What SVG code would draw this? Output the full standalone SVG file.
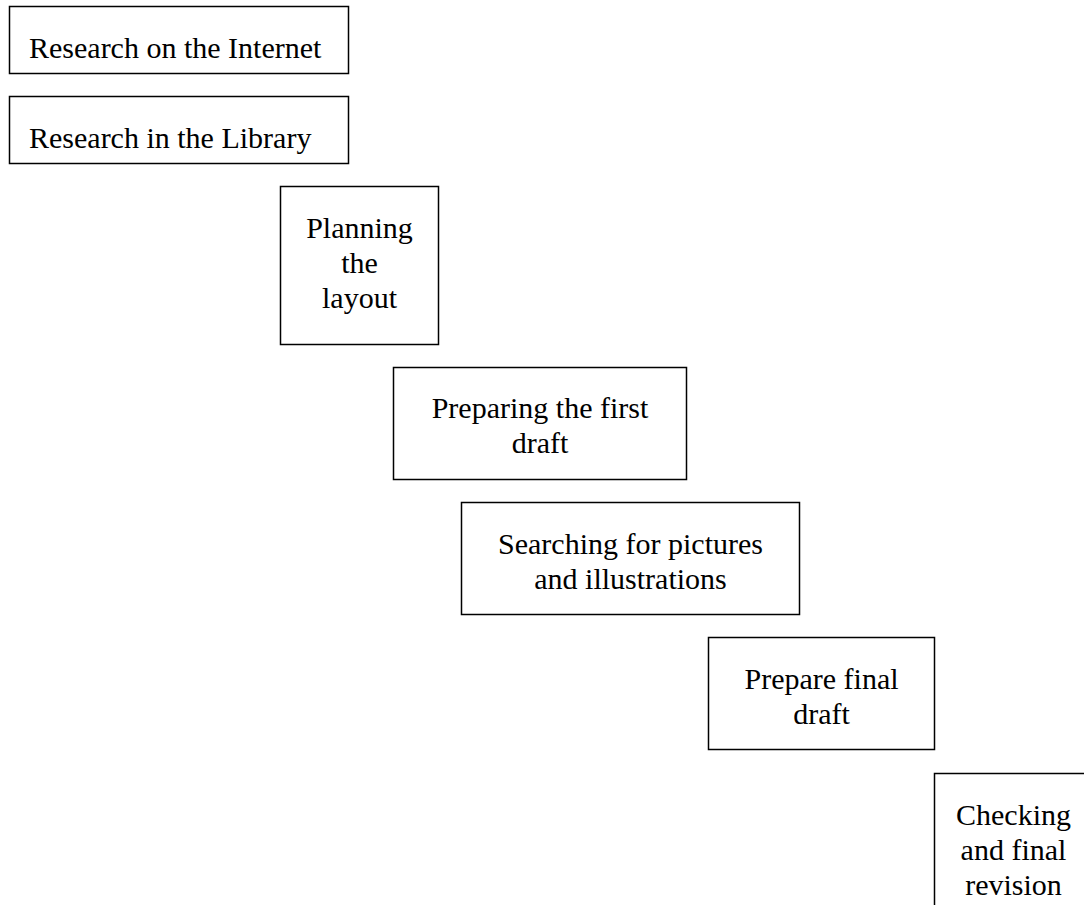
<svg xmlns="http://www.w3.org/2000/svg" width="1084" height="905" viewBox="0 0 1084 905">
<style>
.box{fill:#fff;stroke:#000;stroke-width:1.5}
.t{font-family:"Liberation Serif","Times New Roman",serif;font-size:30px;fill:#000}
.c{text-anchor:middle}
</style>
<rect width="1084" height="905" fill="#fff"/>
<g id="connectors"></g>
<g id="n1"><rect class="box" x="9.5" y="6.5" width="339" height="67"/><text class="t" x="29" y="58">Research on the Internet</text></g>
<g id="n2"><rect class="box" x="9.5" y="96.5" width="339" height="67"/><text class="t" x="29" y="148">Research in the Library</text></g>
<g id="n3"><rect class="box" x="280.5" y="186.5" width="158" height="158"/><text class="t c" x="359.5" y="238">Planning</text><text class="t c" x="359.5" y="273">the</text><text class="t c" x="359.5" y="308">layout</text></g>
<g id="n4"><rect class="box" x="393.5" y="367.5" width="293" height="112"/><text class="t c" x="540" y="418">Preparing the first</text><text class="t c" x="540" y="453">draft</text></g>
<g id="n5"><rect class="box" x="461.5" y="502.5" width="338" height="112"/><text class="t c" x="630.5" y="554">Searching for pictures</text><text class="t c" x="630.5" y="589">and illustrations</text></g>
<g id="n6"><rect class="box" x="708.5" y="637.5" width="226" height="112"/><text class="t c" x="821.5" y="689">Prepare final</text><text class="t c" x="821.5" y="724">draft</text></g>
<g id="n7"><rect class="box" x="934.5" y="773.5" width="160" height="160"/><text class="t c" x="1013.5" y="825">Checking</text><text class="t c" x="1013.5" y="860">and final</text><text class="t c" x="1013.5" y="895">revision</text></g>
</svg>
